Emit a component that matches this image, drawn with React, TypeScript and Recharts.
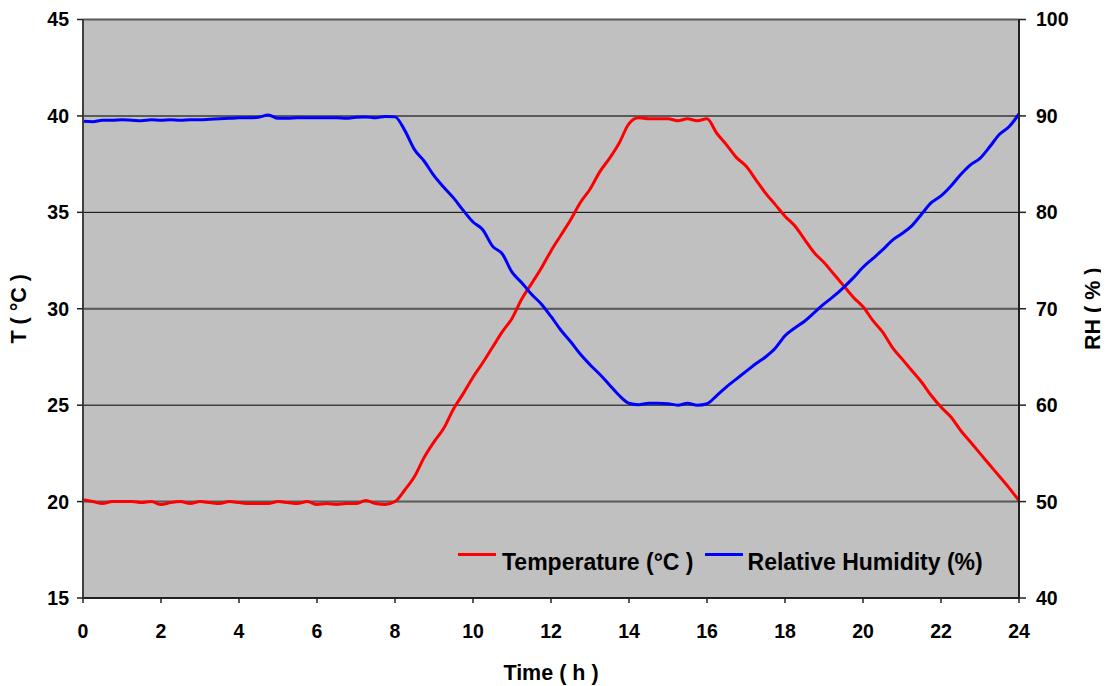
import React from 'react';
import { LineChart, Line, XAxis, YAxis, CartesianGrid, ReferenceLine, Legend } from 'recharts';

const hours = [
  0, 0.25, 0.5, 0.75, 1, 1.25, 1.5, 1.75, 2, 2.25, 2.5, 2.75, 3, 3.25, 3.5, 3.75,
  4, 4.25, 4.5, 4.75, 5, 5.25, 5.5, 5.75, 6, 6.25, 6.5, 6.75, 7, 7.25, 7.5, 7.75,
  8, 8.25, 8.5, 8.75, 9, 9.25, 9.5, 9.75, 10, 10.25, 10.5, 10.75, 11, 11.25, 11.5, 11.75,
  12, 12.25, 12.5, 12.75, 13, 13.25, 13.5, 13.75, 14, 14.25, 14.5, 14.75, 15, 15.25, 15.5, 15.75,
  16, 16.25, 16.5, 16.75, 17, 17.25, 17.5, 17.75, 18, 18.25, 18.5, 18.75, 19, 19.25, 19.5, 19.75,
  20, 20.25, 20.5, 20.75, 21, 21.25, 21.5, 21.75, 22, 22.25, 22.5, 22.75, 23, 23.25, 23.5, 23.75, 24,
];

const temperature = [
  20.1, 20.0, 19.9, 20.0, 20.0, 20.0, 19.95, 20.0, 19.85, 19.95, 20.0, 19.9, 20.0, 19.95, 19.9, 20.0,
  19.95, 19.9, 19.9, 19.9, 20.0, 19.95, 19.9, 20.0, 19.85, 19.9, 19.85, 19.9, 19.9, 20.05, 19.9, 19.85,
  20.0, 20.6, 21.3, 22.3, 23.1, 23.8, 24.8, 25.6, 26.45, 27.2, 28.0, 28.8, 29.5, 30.5, 31.3, 32.1,
  33.0, 33.8, 34.6, 35.5, 36.2, 37.1, 37.8, 38.6, 39.6, 39.9, 39.85, 39.85, 39.85, 39.75, 39.85, 39.75,
  39.85, 39.1, 38.5, 37.85, 37.4, 36.7, 36.0, 35.4, 34.8, 34.3, 33.6, 32.9, 32.4, 31.8, 31.2, 30.6,
  30.1, 29.4, 28.8, 28.0, 27.4, 26.8, 26.2, 25.5, 24.9, 24.4, 23.7, 23.1, 22.5, 21.9, 21.3, 20.7, 20.05,
];

const humidity = [
  89.45, 89.4, 89.55, 89.55, 89.6, 89.55, 89.5, 89.6, 89.55, 89.6, 89.55, 89.6, 89.6, 89.65, 89.7, 89.75,
  89.8, 89.8, 89.85, 90.1, 89.75, 89.75, 89.8, 89.8, 89.8, 89.8, 89.8, 89.75, 89.85, 89.9, 89.8, 89.95,
  89.9, 88.5, 86.5, 85.3, 83.8, 82.6, 81.5, 80.2, 79.0, 78.2, 76.5, 75.7, 73.8, 72.7, 71.5, 70.5,
  69.2, 67.8, 66.6, 65.3, 64.2, 63.2, 62.1, 61.0, 60.2, 60.05, 60.2, 60.2, 60.15, 60.0, 60.2, 60.0,
  60.15, 61.0, 61.9, 62.7, 63.5, 64.3, 65.0, 65.9, 67.2, 68.0, 68.7, 69.6, 70.5, 71.3, 72.2, 73.2,
  74.3, 75.2, 76.1, 77.1, 77.8, 78.6, 79.8, 81.0, 81.7, 82.7, 83.9, 84.9, 85.6, 86.8, 88.1, 88.9, 90.2,
];

const xTicks = [0, 2, 4, 6, 8, 10, 12, 14, 16, 18, 20, 22, 24];
const tTicks = [15, 20, 25, 30, 35, 40, 45];
const rhTicks = [40, 50, 60, 70, 80, 90, 100];
const grayGridLevels = [45, 40, 30, 20];

const seriesNames = { temp: 'Temperature (°C )', rh: 'Relative Humidity (%)' };

const data = hours.map((h, i) => ({ h, temp: temperature[i], rh: humidity[i] }));

const FONT = '"Liberation Sans", Arial, Helvetica, sans-serif';
const tickStyle = { fontFamily: FONT, fontSize: 19.5, fontWeight: 700, fill: '#000' };
const titleStyle = { fontFamily: FONT, fontSize: 21.5, fontWeight: 700, fill: '#000' };

const LegendContent = () => (
  <div style={{ display: 'flex', alignItems: 'flex-start', fontFamily: FONT, fontSize: 23, fontWeight: 700, color: '#000', lineHeight: '24px', whiteSpace: 'nowrap' }}>
    <span style={{ display: 'inline-block', width: 38, height: 3, background: '#FF0000', marginTop: 3, marginRight: 6 }} />
    <span>{seriesNames.temp}</span>
    <span style={{ display: 'inline-block', width: 38, height: 3, background: '#0000FF', marginTop: 3, marginLeft: 11, marginRight: 5 }} />
    <span>{seriesNames.rh}</span>
  </div>
);

const XTick = (props: any) => {
  const { x, payload } = props;
  return (
    <text x={x} y={623} textAnchor="middle" dominantBaseline="central" style={tickStyle}>
      {payload.value}
    </text>
  );
};

export default function App() {
  return (
    <div style={{ width: 1101, height: 678, fontFamily: FONT }}>
      <LineChart width={1101} height={678} data={data} margin={{ top: 11.5, right: 0, left: 0, bottom: 0 }}>
        <CartesianGrid vertical={false} horizontal={true} stroke="#000" strokeWidth={1} fill="#C0C0C0" fillOpacity={1} yAxisId="t" />
        <XAxis
          dataKey="h"
          type="number"
          domain={[0, 24]}
          ticks={xTicks}
          height={88}
          tickSize={5}
          tick={<XTick />}
          interval={0}
          axisLine={{ stroke: '#202020', strokeWidth: 2 }}
          tickLine={{ stroke: '#202020', strokeWidth: 1.5 }}
          label={(props: any) => {
            const vb = props.viewBox || {};
            return (
              <text x={vb.x + vb.width / 2} y={665} textAnchor="middle" dominantBaseline="central" style={titleStyle}>
                Time ( h )
              </text>
            );
          }}
        />
        <YAxis
          yAxisId="t"
          orientation="left"
          domain={[15, 45]}
          ticks={tTicks}
          width={75}
          tickSize={6}
          tickMargin={8}
          tick={tickStyle}
          interval={0}
          axisLine={{ stroke: '#404040', strokeWidth: 2 }}
          tickLine={{ stroke: '#202020', strokeWidth: 1.5 }}
          label={(props: any) => {
            const vb = props.viewBox || {};
            const cy = vb.y + vb.height / 2;
            return (
              <text x={11} y={cy} textAnchor="middle" dominantBaseline="central" transform={`rotate(-90, 11, ${cy})`} style={titleStyle}>
                T ( °C )
              </text>
            );
          }}
        />
        <YAxis
          yAxisId="rh"
          orientation="right"
          domain={[40, 100]}
          ticks={rhTicks}
          width={90}
          tickSize={7}
          tickMargin={10}
          tick={tickStyle}
          interval={0}
          axisLine={{ stroke: '#202020', strokeWidth: 2 }}
          tickLine={{ stroke: '#202020', strokeWidth: 1.5 }}
          label={(props: any) => {
            const vb = props.viewBox || {};
            const cy = vb.y + vb.height / 2;
            return (
              <text x={1085} y={cy} textAnchor="middle" dominantBaseline="central" transform={`rotate(-90, 1085, ${cy})`} style={titleStyle}>
                RH ( % )
              </text>
            );
          }}
        />
        {grayGridLevels.map((v) => (
          <ReferenceLine key={v} yAxisId="t" y={v} stroke="#5a5a5a" strokeWidth={2} ifOverflow="extendDomain" />
        ))}
        <Line yAxisId="t" type="monotone" dataKey="temp" name={seriesNames.temp} stroke="#FF0000" strokeWidth={3} dot={false} isAnimationActive={false} />
        <Line yAxisId="rh" type="monotone" dataKey="rh" name={seriesNames.rh} stroke="#0000FF" strokeWidth={3} dot={false} isAnimationActive={false} />
        <Legend
          layout="horizontal"
          verticalAlign="middle"
          align="center"
          content={<LegendContent />}
          wrapperStyle={{ position: 'absolute', left: 450, top: 542, width: 'auto', bottom: 'auto', right: 'auto' }}
        />
      </LineChart>
    </div>
  );
}
